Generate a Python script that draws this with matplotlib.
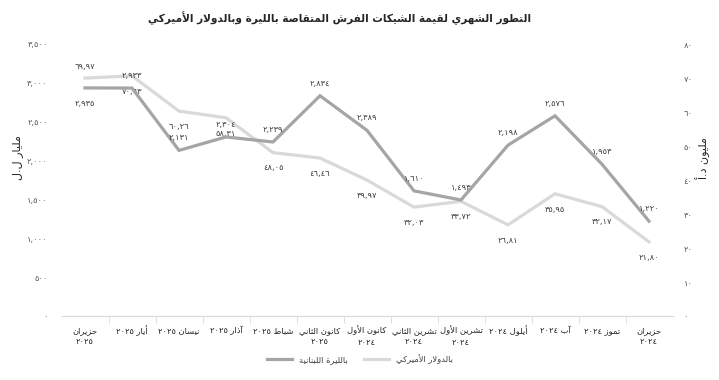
import matplotlib
matplotlib.use("Agg")
import matplotlib.pyplot as plt
from matplotlib.ticker import FuncFormatter

# ---- data (left to right as drawn: newest month first) ----
months = ["حزيران ٢٠٢٥", "أيار ٢٠٢٥", "نيسان ٢٠٢٥", "آذار ٢٠٢٥", "شباط ٢٠٢٥",
          "كانون الثاني ٢٠٢٥", "كانون الأول ٢٠٢٤", "تشرين الثاني ٢٠٢٤",
          "تشرين الأول ٢٠٢٤", "أيلول ٢٠٢٤", "آب ٢٠٢٤", "تموز ٢٠٢٤", "حزيران ٢٠٢٤"]
two_line = [True, False, False, False, False, True, True, True, True, False, False, False, True]
lbp = [2935, 2933, 2131, 2304, 2239, 2834, 2389, 1610, 1493, 2198, 2576, 1953, 1220]
usd = [69.97, 70.63, 60.26, 58.31, 48.05, 46.46, 39.97, 32.03, 33.72, 26.81, 35.95, 32.17, 21.80]

title = "التطور الشهري لقيمة الشيكات الفرش المتقاصة بالليرة وبالدولار الأميركي"
left_label = "مليار ل.ل"
right_label = "مليون د.أ"
leg_lbp = "بالليرة اللبنانية"
leg_usd = "بالدولار الأميركي"

# ---- minimal arabic shaping (matplotlib has no bidi/shaping) ----
# isolated, final, initial, medial
FORMS = {
    'ء': (0xFE80, None, None, None),
    'آ': (0xFE81, 0xFE82, None, None), 'أ': (0xFE83, 0xFE84, None, None),
    'إ': (0xFE87, 0xFE88, None, None), 'ا': (0xFE8D, 0xFE8E, None, None),
    'ب': (0xFE8F, 0xFE90, 0xFE91, 0xFE92), 'ة': (0xFE93, 0xFE94, None, None),
    'ت': (0xFE95, 0xFE96, 0xFE97, 0xFE98), 'ث': (0xFE99, 0xFE9A, 0xFE9B, 0xFE9C),
    'ج': (0xFE9D, 0xFE9E, 0xFE9F, 0xFEA0), 'ح': (0xFEA1, 0xFEA2, 0xFEA3, 0xFEA4),
    'خ': (0xFEA5, 0xFEA6, 0xFEA7, 0xFEA8), 'د': (0xFEA9, 0xFEAA, None, None),
    'ذ': (0xFEAB, 0xFEAC, None, None), 'ر': (0xFEAD, 0xFEAE, None, None),
    'ز': (0xFEAF, 0xFEB0, None, None), 'س': (0xFEB1, 0xFEB2, 0xFEB3, 0xFEB4),
    'ش': (0xFEB5, 0xFEB6, 0xFEB7, 0xFEB8), 'ص': (0xFEB9, 0xFEBA, 0xFEBB, 0xFEBC),
    'ض': (0xFEBD, 0xFEBE, 0xFEBF, 0xFEC0), 'ط': (0xFEC1, 0xFEC2, 0xFEC3, 0xFEC4),
    'ظ': (0xFEC5, 0xFEC6, 0xFEC7, 0xFEC8), 'ع': (0xFEC9, 0xFECA, 0xFECB, 0xFECC),
    'غ': (0xFECD, 0xFECE, 0xFECF, 0xFED0), 'ف': (0xFED1, 0xFED2, 0xFED3, 0xFED4),
    'ق': (0xFED5, 0xFED6, 0xFED7, 0xFED8), 'ك': (0xFED9, 0xFEDA, 0xFEDB, 0xFEDC),
    'ل': (0xFEDD, 0xFEDE, 0xFEDF, 0xFEE0), 'م': (0xFEE1, 0xFEE2, 0xFEE3, 0xFEE4),
    'ن': (0xFEE5, 0xFEE6, 0xFEE7, 0xFEE8), 'ه': (0xFEE9, 0xFEEA, 0xFEEB, 0xFEEC),
    'و': (0xFEED, 0xFEEE, None, None), 'ى': (0xFEEF, 0xFEF0, None, None),
    'ي': (0xFEF1, 0xFEF2, 0xFEF3, 0xFEF4),
}
LAM_ALEF = {'آ': (0xFEF5, 0xFEF6), 'أ': (0xFEF7, 0xFEF8),
            'إ': (0xFEF9, 0xFEFA), 'ا': (0xFEFB, 0xFEFC)}


def joins_next(c):
    return c in FORMS and FORMS[c][2] is not None


def shape_word(w):
    # merge lam + alef into ligature tokens
    toks = []
    i = 0
    while i < len(w):
        if w[i] == 'ل' and i + 1 < len(w) and w[i + 1] in LAM_ALEF:
            toks.append(('LA', w[i + 1]))
            i += 2
        else:
            toks.append(('C', w[i]))
            i += 1
    out = []
    for k, (kind, c) in enumerate(toks):
        prev = toks[k - 1] if k > 0 else None
        nxt = toks[k + 1] if k + 1 < len(toks) else None
        p_join = prev is not None and prev[0] == 'C' and joins_next(prev[1])
        if kind == 'LA':
            iso, fin = LAM_ALEF[c]
            out.append(chr(fin if p_join else iso))
            continue
        if c not in FORMS:
            out.append(c)
            continue
        iso, fin, ini, med = FORMS[c]
        n_join = nxt is not None and joins_next(c) and (nxt[0] == 'LA' or nxt[1] in FORMS)
        if p_join and n_join:
            out.append(chr(med))
        elif p_join:
            out.append(chr(fin))
        elif n_join:
            out.append(chr(ini))
        else:
            out.append(chr(iso))
    return ''.join(out)


def ar(text):
    words = text.split(' ')
    res = []
    for w in words:
        if any(c in FORMS for c in w):
            res.append(shape_word(w)[::-1])
        else:
            res.append(w)
    return ' '.join(res[::-1])


AR_DIGITS = str.maketrans("0123456789.", "٠١٢٣٤٥٦٧٨٩,")


def ar_num(s):
    return s.translate(AR_DIGITS)


def month_label(m, split):
    parts = m.split(' ')
    name = ' '.join(parts[:-1])
    year = parts[-1]
    if split:
        return ar(name) + "\n" + year
    return ar(m)


plt.rcParams['font.family'] = ['DejaVu Sans']

fig = plt.figure(figsize=(7.19, 3.8), dpi=100)
ax = fig.add_axes([61.5 / 719, 1 - 316 / 380, (672.5 - 61.5) / 719, (316 - 44) / 380])
ax2 = ax.twinx()

x = list(range(len(months)))
dark = '#a5a5a5'
light = '#d9d9d9'
ax2.plot(x, usd, color=light, lw=2.3, solid_joinstyle='miter', zorder=2)
ax.plot(x, lbp, color=dark, lw=2.3, solid_joinstyle='miter', zorder=3)
ax.set_zorder(ax2.get_zorder() + 1)
ax.patch.set_visible(False)

ax.set_xlim(-0.5, len(months) - 0.5)
ax.set_ylim(0, 3500)
ax2.set_ylim(0, 80)
ax.set_yticks(range(0, 3501, 500))
ax2.set_yticks(range(0, 81, 10))
ax.yaxis.set_major_formatter(FuncFormatter(lambda v, p: ar_num(f"{int(v):,}")))
ax2.yaxis.set_major_formatter(FuncFormatter(lambda v, p: ar_num(f"{int(v)}")))

tick_col = '#595959'
for a in (ax, ax2):
    for s in a.spines.values():
        s.set_visible(False)
    a.tick_params(axis='y', length=0, labelsize=6, labelcolor=tick_col)
ax.tick_params(axis='y', pad=10)
ax2.tick_params(axis='y', pad=8)

ax.spines['bottom'].set_visible(True)
ax.spines['bottom'].set_color('#d9d9d9')
ax.set_xticks([i + 0.5 for i in x[:-1]], minor=True)
ax.set_xticks(x)
ax.set_xticklabels([month_label(m, s) for m, s in zip(months, two_line)],
                   fontsize=6, color='#262626', linespacing=1.3, va='top')
ax.tick_params(axis='x', which='major', length=0, pad=7)
ax.tick_params(axis='x', which='minor', length=5, color='#d9d9d9')

lab_col = '#404040'
for i, v in enumerate(lbp):
    dy = -11 if i == 0 else 9
    ax.annotate(ar_num(f"{v:,}"), (i, v), xytext=(0, dy), textcoords='offset points',
                ha='center', va='center', fontsize=6, color=lab_col)
for i, v in enumerate(usd):
    dy = 8 if i == 0 else -11
    ax2.annotate(ar_num(f"{v:.2f}"), (i, v), xytext=(0, dy), textcoords='offset points',
                 ha='center', va='center', fontsize=6, color=lab_col)

fig.text(340 / 719, 1 - 18 / 380, ar(title), ha='center', va='center',
         fontsize=7.6, fontweight='bold', color='#262626')
fig.text(18 / 719, 1 - 158 / 380, ar(left_label), rotation=90, ha='center', va='center',
         fontsize=8, color='#262626')
fig.text(703 / 719, 1 - 158 / 380, ar(right_label), rotation=90, ha='center', va='center',
         fontsize=8, color='#262626')

h1, = ax.plot([], [], color=dark, lw=2.3)
h2, = ax.plot([], [], color=light, lw=2.3)
fig.legend([h1, h2], [ar(leg_lbp), ar(leg_usd)], loc='center', ncol=2,
           bbox_to_anchor=(360 / 719, 1 - 359 / 380), frameon=False, fontsize=6,
           handlelength=3, columnspacing=2, labelcolor='#404040')

fig.savefig("out.png", dpi=100)
